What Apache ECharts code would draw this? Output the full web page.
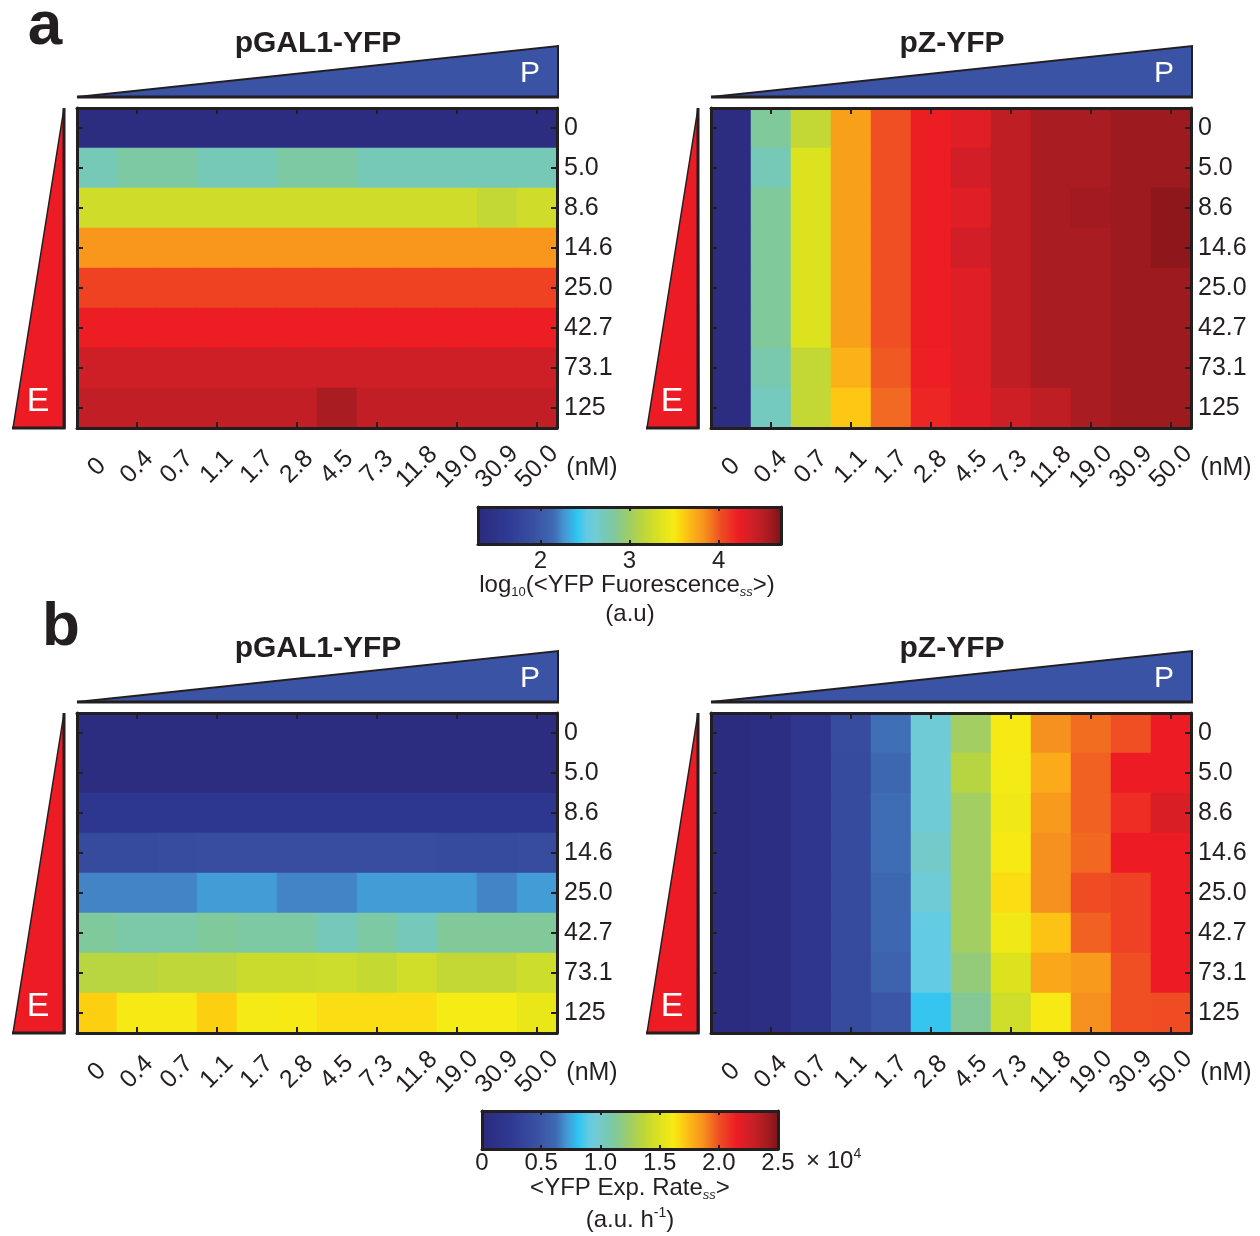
<!DOCTYPE html>
<html>
<head>
<meta charset="utf-8">
<title>YFP reporter response heatmaps</title>
<script src="https://cdn.jsdelivr.net/npm/echarts@6/dist/echarts.min.js"></script>
<style>
  html, body { margin: 0; padding: 0; background: #ffffff; }
  #chart { width: 1260px; height: 1236px; }
</style>
</head>
<body>
<div id="chart"></div>
<script>
// Inducer concentrations: P along columns, E along rows (nM)
const P_LABELS = ['0', '0.4', '0.7', '1.1', '1.7', '2.8', '4.5', '7.3', '11.8', '19.0', '30.9', '50.0'];
const E_LABELS = ['0', '5.0', '8.6', '14.6', '25.0', '42.7', '73.1', '125'];

// log10 of steady-state YFP fluorescence (a.u.), rows = E, columns = P
const FLUOR_GAL1 = [
  [1.37, 1.37, 1.37, 1.37, 1.37, 1.37, 1.37, 1.37, 1.37, 1.37, 1.37, 1.37],
  [2.73, 2.80, 2.80, 2.73, 2.73, 2.80, 2.80, 2.73, 2.73, 2.73, 2.73, 2.73],
  [3.26, 3.26, 3.26, 3.26, 3.26, 3.26, 3.26, 3.26, 3.26, 3.26, 3.19, 3.26],
  [3.82, 3.82, 3.82, 3.82, 3.82, 3.82, 3.82, 3.82, 3.82, 3.82, 3.82, 3.82],
  [4.07, 4.07, 4.07, 4.07, 4.07, 4.07, 4.07, 4.07, 4.07, 4.07, 4.07, 4.07],
  [4.22, 4.22, 4.22, 4.22, 4.22, 4.22, 4.22, 4.22, 4.22, 4.22, 4.22, 4.22],
  [4.38, 4.38, 4.38, 4.38, 4.38, 4.38, 4.38, 4.38, 4.38, 4.38, 4.38, 4.38],
  [4.45, 4.45, 4.45, 4.45, 4.45, 4.45, 4.55, 4.45, 4.45, 4.45, 4.45, 4.45]
];
const FLUOR_PZ = [
  [1.37, 2.83, 3.19, 3.78, 4.02, 4.22, 4.29, 4.46, 4.55, 4.55, 4.60, 4.60],
  [1.37, 2.73, 3.34, 3.78, 4.02, 4.22, 4.36, 4.46, 4.55, 4.55, 4.60, 4.60],
  [1.37, 2.83, 3.34, 3.78, 4.02, 4.22, 4.29, 4.46, 4.55, 4.58, 4.60, 4.65],
  [1.37, 2.83, 3.34, 3.78, 4.02, 4.22, 4.36, 4.46, 4.55, 4.55, 4.60, 4.65],
  [1.37, 2.83, 3.34, 3.78, 4.02, 4.22, 4.29, 4.46, 4.55, 4.55, 4.60, 4.60],
  [1.37, 2.83, 3.34, 3.78, 4.02, 4.22, 4.29, 4.46, 4.55, 4.55, 4.60, 4.60],
  [1.37, 2.76, 3.19, 3.71, 3.99, 4.21, 4.29, 4.46, 4.55, 4.55, 4.60, 4.60],
  [1.37, 2.69, 3.19, 3.63, 3.95, 4.19, 4.28, 4.38, 4.46, 4.55, 4.60, 4.60]
];

// Steady-state YFP expression rate (a.u. per hour), rows = E, columns = P
const RATE_GAL1 = [
  [500, 500, 500, 500, 500, 500, 500, 500, 500, 500, 500, 500],
  [500, 500, 500, 500, 500, 500, 500, 500, 500, 500, 500, 500],
  [2000, 2000, 2000, 2000, 2000, 2000, 2000, 2000, 2000, 2000, 2000, 2000],
  [4000, 4000, 4150, 4250, 4250, 4250, 4250, 4250, 4250, 4050, 4050, 4150],
  [6750, 6750, 6750, 7250, 7250, 6750, 6750, 7250, 7250, 7250, 6750, 7250],
  [11250, 10900, 10900, 11250, 11000, 11000, 10400, 11000, 10400, 11300, 11300, 11300],
  [13500, 13500, 13750, 13750, 14250, 14250, 14350, 14000, 14500, 13900, 13900, 14350],
  [16900, 16200, 16200, 16900, 16000, 16200, 16500, 16500, 16500, 16100, 16100, 15600]
];
const RATE_PZ = [
  [250, 600, 1900, 4100, 6350, 9600, 12600, 16200, 18700, 19400, 20000, 21500],
  [250, 600, 1900, 4000, 6000, 9600, 13400, 16050, 17900, 19650, 21500, 21500],
  [250, 600, 1900, 4000, 6300, 9600, 12600, 15900, 18400, 19650, 21000, 22250],
  [250, 600, 1900, 4000, 6300, 10000, 12600, 16200, 18700, 19500, 21500, 21500],
  [250, 600, 1900, 4000, 6000, 9600, 12600, 16500, 18700, 20100, 20400, 21500],
  [250, 600, 1900, 4000, 6000, 9000, 12600, 15900, 17250, 19650, 20400, 21500],
  [250, 600, 1900, 4000, 5700, 9000, 12000, 15000, 18000, 18400, 20000, 21500],
  [250, 600, 1900, 4000, 5000, 8250, 11400, 14400, 16200, 18700, 20000, 20100]
];

// Colour scale ranges and their tick values
const FLUOR_RANGE = [1.3, 4.7];
const FLUOR_TICKS = [2, 3, 4];
const RATE_RANGE = [0, 25000];
const RATE_TICKS = [0, 5000, 10000, 15000, 20000, 25000];

// Colormap: navy -> blue -> cyan -> green -> yellow -> orange -> red -> dark red
const CMAP = [
  [0.00, '#2b2a7d'], [0.10, '#2f3a93'], [0.19, '#3a52a3'], [0.25, '#3e6bb4'],
  [0.285, '#4596d2'], [0.325, '#2ec4f1'], [0.36, '#63cbe3'], [0.39, '#72cbd1'],
  [0.42, '#76c9b6'], [0.45, '#80c99b'], [0.50, '#a0cd66'], [0.545, '#bcd63a'],
  [0.60, '#dde21f'], [0.645, '#f6eb15'], [0.675, '#fdd011'], [0.715, '#fbab19'],
  [0.745, '#f7941d'], [0.80, '#ef4f23'], [0.86, '#ed1c24'], [0.90, '#d21f27'],
  [0.93, '#bf1e24'], [0.955, '#aa1c21'], [0.97, '#9e1a1f'], [1.00, '#7e1417']
];

const INK = '#231f20';
const FONT = '"Liberation Sans", Arial, Helvetica, sans-serif';

function hexToRgb(h) {
  return [parseInt(h.slice(1, 3), 16), parseInt(h.slice(3, 5), 16), parseInt(h.slice(5, 7), 16)];
}
function sampleCmap(t) {
  for (let i = 1; i < CMAP.length; i++) {
    if (t <= CMAP[i][0]) {
      const [t0, c0] = CMAP[i - 1];
      const [t1, c1] = CMAP[i];
      const k = (t - t0) / (t1 - t0);
      const a = hexToRgb(c0), b = hexToRgb(c1);
      const m = a.map((v, j) => Math.round(v + (b[j] - v) * k));
      return 'rgb(' + m.join(',') + ')';
    }
  }
  return CMAP[CMAP.length - 1][1];
}
const PALETTE = [];
for (let i = 0; i <= 200; i++) PALETTE.push(sampleCmap(i / 200));
const GRADIENT_STOPS = CMAP.map(([offset, color]) => ({ offset, color }));

function toCells(matrix) {
  const out = [];
  matrix.forEach((row, r) => row.forEach((v, c) => out.push([c, r, v])));
  return out;
}

// Heatmap panel placement
const PANELS = [
  { left: 77, top: 108, title: 'pGAL1-YFP', data: FLUOR_GAL1 },
  { left: 711, top: 108, title: 'pZ-YFP', data: FLUOR_PZ },
  { left: 77, top: 713, title: 'pGAL1-YFP', data: RATE_GAL1 },
  { left: 711, top: 713, title: 'pZ-YFP', data: RATE_PZ }
];
const CELL_W = 480, CELL_H = 320;

const grid = [], xAxis = [], yAxis = [], series = [], graphic = [];
const edge = { show: true, onZero: false, lineStyle: { color: INK, width: 3 } };
const labelStyle = { color: INK, fontSize: 25, fontFamily: FONT };

PANELS.forEach((p, gi) => {
  grid.push({ left: p.left, top: p.top, width: CELL_W, height: CELL_H });
  const tick = { show: true, inside: true, length: 6, alignWithLabel: true,
    lineStyle: { color: INK, width: 2 }, interval: (i) => i % 2 === 1 };
  xAxis.push({
    type: 'category', gridIndex: gi, position: 'bottom', data: P_LABELS, z: 10,
    axisLine: edge, axisTick: tick,
    axisLabel: Object.assign({ interval: 0, rotate: 45, margin: 39, align: 'center',
      verticalAlign: 'middle' }, labelStyle),
    splitLine: { show: false }
  });
  xAxis.push({
    type: 'category', gridIndex: gi, position: 'top', data: P_LABELS, z: 10,
    axisLine: edge, axisTick: tick, axisLabel: { show: false }, splitLine: { show: false }
  });
  const ytick = { show: true, inside: true, length: 6, alignWithLabel: true,
    lineStyle: { color: INK, width: 2 } };
  yAxis.push({
    type: 'category', gridIndex: gi, position: 'right', inverse: true, data: E_LABELS, z: 10,
    axisLine: edge, axisTick: ytick,
    axisLabel: Object.assign({ interval: 0, margin: 7 }, labelStyle),
    splitLine: { show: false }
  });
  yAxis.push({
    type: 'category', gridIndex: gi, position: 'left', inverse: true, data: E_LABELS, z: 10,
    axisLine: edge, axisTick: ytick, axisLabel: { show: false }, splitLine: { show: false }
  });
  series.push({
    type: 'heatmap', xAxisIndex: gi * 2, yAxisIndex: gi * 2,
    data: toCells(p.data), itemStyle: { borderWidth: 0 },
    emphasis: { disabled: true }, silent: true
  });

  // Annotations around each heatmap: title, P wedge, E wedge, unit
  const x0 = p.left, x1 = p.left + CELL_W, yT = p.top, yB = p.top + CELL_H;
  graphic.push({
    type: 'text', x: (x0 + x1) / 2 + 1, y: yT - 64,
    style: { text: p.title, font: 'bold 30px ' + FONT, fill: INK, align: 'center', verticalAlign: 'middle' }
  });
  graphic.push({
    type: 'polygon', shape: { points: [[x0, yT - 11], [x1 + 1, yT - 62], [x1 + 1, yT - 11]] },
    style: { fill: '#3a53a4', stroke: INK, lineWidth: 2, lineJoin: 'miter' }
  });
  graphic.push({
    type: 'line', shape: { x1: x0, y1: yT - 11, x2: x1 + 2, y2: yT - 11 },
    style: { stroke: INK, lineWidth: 3 }
  });
  graphic.push({
    type: 'text', x: x1 - 27, y: yT - 34,
    style: { text: 'P', font: '30px ' + FONT, fill: '#ffffff', align: 'center', verticalAlign: 'middle' }
  });
  graphic.push({
    type: 'polygon', shape: { points: [[x0 - 13, yT], [x0 - 64, yB], [x0 - 12, yB]] },
    style: { fill: '#ed1c24', stroke: INK, lineWidth: 1.5 }
  });
  graphic.push({
    type: 'polyline', shape: { points: [[x0 - 13, yT], [x0 - 13, yB], [x0 - 65, yB]] },
    style: { stroke: INK, lineWidth: 3, fill: null }
  });
  graphic.push({
    type: 'text', x: x0 - 39, y: yB - 26,
    style: { text: 'E', font: '34px ' + FONT, fill: '#ffffff', align: 'center', verticalAlign: 'middle' }
  });
  graphic.push({
    type: 'text', x: x1 + 35, y: yB + 40,
    style: { text: '(nM)', font: '25px ' + FONT, fill: INK, align: 'center', verticalAlign: 'middle' }
  });
});

// Colour bars, each a gradient drawn over its own value axis
const CBARS = [
  { left: 478, top: 507, width: 303, height: 37, range: FLUOR_RANGE, ticks: FLUOR_TICKS,
    labels: FLUOR_TICKS, fmt: (v) => String(v) },
  { left: 482, top: 1111, width: 296, height: 38, range: RATE_RANGE, ticks: RATE_TICKS.slice(1, -1),
    labels: RATE_TICKS, fmt: (v) => (v === 0 ? '0' : (v / 10000).toFixed(1)) }
];
CBARS.forEach((cb, k) => {
  const gi = grid.length;
  grid.push({ left: cb.left, top: cb.top, width: cb.width, height: cb.height });
  const ctick = { show: true, inside: true, length: 4, customValues: cb.ticks,
    lineStyle: { color: INK, width: 2 } };
  const xb = xAxis.length;
  xAxis.push({
    type: 'value', gridIndex: gi, position: 'bottom', min: cb.range[0], max: cb.range[1], z: 10,
    axisLine: edge, axisTick: ctick, splitLine: { show: false },
    axisLabel: Object.assign({ customValues: cb.labels, formatter: cb.fmt, margin: k === 0 ? 5 : 2,
      showMinLabel: true, showMaxLabel: true }, labelStyle, { fontSize: 24 })
  });
  xAxis.push({
    type: 'value', gridIndex: gi, position: 'top', min: cb.range[0], max: cb.range[1], z: 10,
    axisLine: edge, axisTick: ctick, splitLine: { show: false }, axisLabel: { show: false }
  });
  const yb = yAxis.length;
  ['left', 'right'].forEach((pos) => yAxis.push({
    type: 'value', gridIndex: gi, position: pos, min: 0, max: 1, z: 10,
    axisLine: edge, axisTick: { show: false }, axisLabel: { show: false }, splitLine: { show: false }
  }));
  series.push({
    type: 'custom', xAxisIndex: xb, yAxisIndex: yb, silent: true,
    data: [[cb.range[0], cb.range[1], 0, 1]],
    encode: { x: [0, 1], y: [2, 3] },
    renderItem: (params, api) => {
      const a = api.coord([api.value(0), api.value(2)]);
      const b = api.coord([api.value(1), api.value(3)]);
      return {
        type: 'rect',
        shape: { x: a[0], y: b[1], width: b[0] - a[0], height: a[1] - b[1] },
        style: { fill: new echarts.graphic.LinearGradient(0, 0, 1, 0, GRADIENT_STOPS) }
      };
    }
  });
});

// Panel letters and colour bar captions
const rich = {
  sub: { fontSize: 13, fontFamily: FONT, fill: INK, verticalAlign: 'bottom', lineHeight: 12 },
  subi: { fontSize: 13, fontFamily: FONT, fontStyle: 'italic', fill: INK, verticalAlign: 'bottom', lineHeight: 12 },
  sup: { fontSize: 14, fontFamily: FONT, fill: INK, verticalAlign: 'top', lineHeight: 13 }
};
graphic.push(
  { type: 'text', x: 45, y: 27, style: { text: 'a', font: 'bold 62px ' + FONT, fill: INK, align: 'center', verticalAlign: 'middle' } },
  { type: 'text', x: 61, y: 628, style: { text: 'b', font: 'bold 62px ' + FONT, fill: INK, align: 'center', verticalAlign: 'middle' } },
  { type: 'text', x: 627, y: 585, style: { text: 'log{sub|10}(<YFP Fuorescence{subi|ss}>)', font: '24px ' + FONT,
      lineHeight: 28, fill: INK, align: 'center', verticalAlign: 'middle', rich } },
  { type: 'text', x: 630, y: 614, style: { text: '(a.u)', font: '24px ' + FONT, fill: INK, align: 'center', verticalAlign: 'middle' } },
  { type: 'text', x: 806, y: 1161, style: { text: '\u00d7 10{sup|4}', font: '24px ' + FONT, lineHeight: 28,
      fill: INK, align: 'left', verticalAlign: 'middle', rich } },
  { type: 'text', x: 630, y: 1188, style: { text: '<YFP Exp. Rate{subi|ss}>', font: '24px ' + FONT, lineHeight: 28,
      fill: INK, align: 'center', verticalAlign: 'middle', rich } },
  { type: 'text', x: 630, y: 1220, style: { text: '(a.u. h{sup|-1})', font: '24px ' + FONT, lineHeight: 28,
      fill: INK, align: 'center', verticalAlign: 'middle', rich } }
);

const chart = echarts.init(document.getElementById('chart'), null, { renderer: 'canvas' });
chart.setOption({
  backgroundColor: '#ffffff',
  animation: false,
  textStyle: { fontFamily: FONT },
  grid, xAxis, yAxis, series, graphic,
  visualMap: [
    { type: 'continuous', show: false, seriesIndex: [0, 1], min: FLUOR_RANGE[0], max: FLUOR_RANGE[1],
      dimension: 2, inRange: { color: PALETTE } },
    { type: 'continuous', show: false, seriesIndex: [2, 3], min: RATE_RANGE[0], max: RATE_RANGE[1],
      dimension: 2, inRange: { color: PALETTE } }
  ]
});
</script>
</body>
</html>
